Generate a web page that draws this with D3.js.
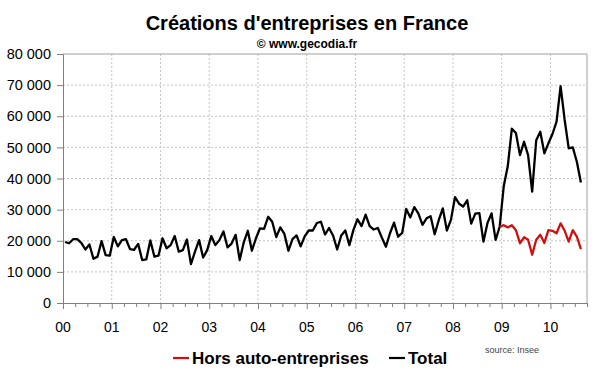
<!DOCTYPE html>
<html>
<head>
<meta charset="utf-8">
<script src="https://cdn.jsdelivr.net/npm/d3@7"></script>
<style>
    body { margin: 0; background: #fff; }
    svg { display: block; font-family: Arial, "Liberation Sans", sans-serif; }
</style>
</head>
<body>
<div class="svg-class"></div>
<script>
// monthly data, Jan 2000 -> Aug 2010
var yearLabels = ["00", "01", "02", "03", "04", "05", "06", "07", "08", "09", "10"];
var yTicks = [0, 10000, 20000, 30000, 40000, 50000, 60000, 70000, 80000];

var totalValues = [
    19600, 19200, 20500, 20500, 19300, 17200, 18800, 14200, 14900, 19900, 15400, 15200, // 2000
    21200, 18200, 20200, 20500, 17300, 17100, 19000, 13800, 14000, 20100, 14900, 15200, // 2001
    20800, 17600, 18600, 21500, 16500, 17000, 20400, 12500, 16500, 20200, 14600, 17000, // 2002
    21500, 18600, 20200, 23000, 17900, 19100, 21900, 13800, 19500, 23200, 16800, 20800, // 2003
    24000, 23800, 27700, 26100, 21200, 24300, 22200, 16800, 20500, 21700, 18200, 21400, // 2004
    23300, 23300, 25700, 26100, 22000, 24100, 21600, 17200, 21700, 23300, 18600, 23500, // 2005
    26900, 24700, 28400, 24700, 23600, 24100, 21000, 18100, 22400, 25800, 21300, 22500, // 2006
    30200, 27500, 30800, 28700, 25100, 27200, 27900, 22100, 26600, 30400, 23300, 26700, // 2007
    34000, 31900, 31000, 33000, 25500, 28700, 28900, 19700, 25700, 28800, 20300, 24500, // 2008
    37500, 44000, 56000, 54600, 47500, 51800, 47500, 35800, 52300, 55000, 48100, 51300, // 2009
    54300, 58300, 69700, 58800, 49700, 50000, 45400, 38700                              // 2010
];

// hors auto-entreprises, Dec 2008 -> Aug 2010
var horsStart = 107;
var horsValues = [
    24500,
    25000, 24300, 25000, 23400, 19200, 21100, 20300, 15500, 20300, 21900, 19300, 23400,
    23200, 22400, 25600, 23200, 19700, 23400, 21300, 17300
];

var width = 600,
    height = 372,
    monthCount = 129;

var svg = d3.select(".svg-class")
    .append("svg")
    .attr("width", width)
    .attr("height", height);

var x = d3.scaleLinear()
    .domain([0, monthCount])
    .range([63, 587]);

var y = d3.scaleLinear()
    .domain([0, 80000])
    .range([303, 54]);

var fr = d3.formatLocale({ decimal: ",", thousands: " ", grouping: [3], currency: ["", " €"] });

// Title
svg.append("text")
    .attr("x", 307)
    .attr("y", 30)
    .attr("text-anchor", "middle")
    .style("font-size", "20px")
    .style("font-weight", "bold")
    .text("Créations d'entreprises en France");

svg.append("text")
    .attr("x", 307)
    .attr("y", 48)
    .attr("text-anchor", "middle")
    .style("font-size", "12px")
    .style("font-weight", "bold")
    .text("© www.gecodia.fr");

// grid
var gridColor = "#c4c4c4";
svg.append("g")
    .selectAll("line")
    .data(yTicks.slice(1, -1))
    .enter()
    .append("line")
    .attr("x1", x(0))
    .attr("x2", x(monthCount))
    .attr("y1", function (d) { return y(d); })
    .attr("y2", function (d) { return y(d); })
    .attr("stroke", gridColor)
    .attr("stroke-dasharray", "2,2");

svg.append("g")
    .selectAll("line")
    .data(yearLabels.slice(1))
    .enter()
    .append("line")
    .attr("x1", function (d, i) { return x((i + 1) * 12); })
    .attr("x2", function (d, i) { return x((i + 1) * 12); })
    .attr("y1", y(80000))
    .attr("y2", y(0))
    .attr("stroke", gridColor)
    .attr("stroke-dasharray", "2,2");

// top / right border
svg.append("path")
    .attr("d", "M" + x(0) + "," + y(80000) + "H" + x(monthCount) + "V" + y(0))
    .attr("fill", "none")
    .attr("stroke", "#a0a0a0");

// y axis
var yAxis = svg.append("g")
    .attr("transform", "translate(" + x(0) + ",0)")
    .call(d3.axisLeft(y)
        .tickValues(yTicks)
        .tickSize(6)
        .tickPadding(6)
        .tickFormat(fr.format(",")));
yAxis.selectAll("text")
    .style("font-size", "14.5px")
    .style("font-family", "Arial, 'Liberation Sans', sans-serif")
    .attr("fill", "#000");
yAxis.selectAll("line, path").attr("stroke", "#808080");

// x axis, quarterly ticks
var quarterTicks = d3.range(0, monthCount + 1, 3);
var xAxis = svg.append("g")
    .attr("transform", "translate(0," + y(0) + ")")
    .call(d3.axisBottom(x)
        .tickValues(quarterTicks)
        .tickSize(4)
        .tickSizeOuter(0)
        .tickFormat(""));
xAxis.selectAll("line, path").attr("stroke", "#808080");
xAxis.selectAll(".tick line")
    .attr("y2", function (d) { return d % 12 === 0 ? 6 : 4; });

svg.append("g")
    .selectAll("text")
    .data(yearLabels)
    .enter()
    .append("text")
    .attr("x", function (d, i) { return x(i * 12); })
    .attr("y", 332)
    .attr("text-anchor", "middle")
    .style("font-size", "14px")
    .text(function (d) { return d; });

// lines
var line = d3.line()
    .x(function (d) { return x(d.i + 0.5); })
    .y(function (d) { return y(d.v); });

var totalData = totalValues.map(function (v, i) { return { i: i, v: v }; });
var horsData = horsValues.map(function (v, i) { return { i: i + horsStart, v: v }; });

svg.append("path")
    .datum(totalData)
    .attr("d", line)
    .attr("fill", "none")
    .attr("stroke", "#000")
    .attr("stroke-width", 2.3)
    .attr("stroke-linejoin", "round");

svg.append("path")
    .datum(horsData)
    .attr("d", line)
    .attr("fill", "none")
    .attr("stroke", "#d01010")
    .attr("stroke-width", 2.3)
    .attr("stroke-linejoin", "round");

// legend
var legend = svg.selectAll(".legend")
    .data([
        { name: "Hors auto-entreprises", color: "#d01010", x: 173 },
        { name: "Total", color: "#000", x: 389 }
    ])
    .enter()
    .append("g")
    .attr("transform", function (d) { return "translate(" + d.x + ",358)"; });

legend.append("line")
    .attr("x1", 0)
    .attr("x2", 16)
    .attr("stroke", function (d) { return d.color; })
    .attr("stroke-width", 2.2);

legend.append("text")
    .attr("x", 19)
    .attr("y", 6)
    .style("font-size", "17px")
    .style("font-weight", "bold")
    .text(function (d) { return d.name; });

svg.append("text")
    .attr("x", 485)
    .attr("y", 353)
    .style("font-size", "9px")
    .attr("fill", "#444")
    .text("source: Insee");
</script>
</body>
</html>
